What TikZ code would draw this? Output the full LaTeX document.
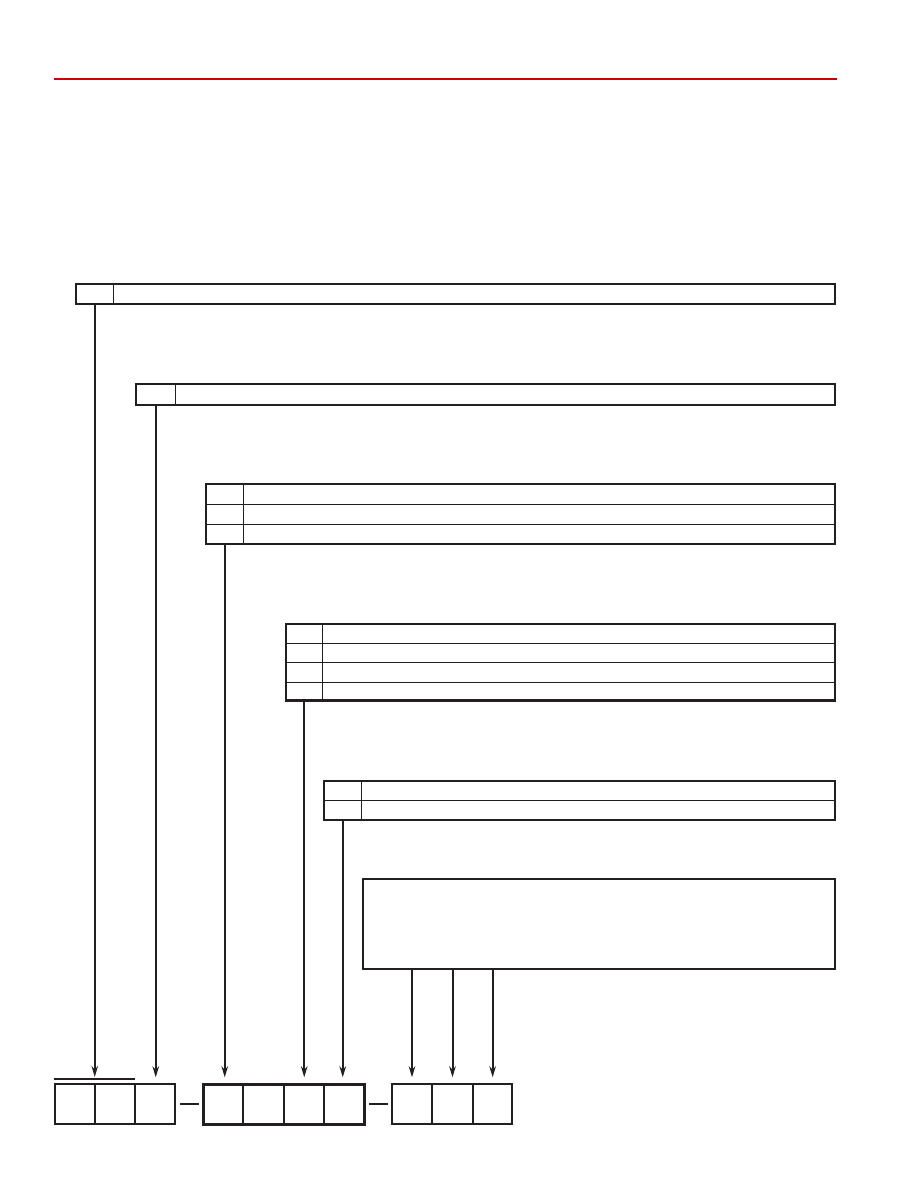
\documentclass[tikz,border=0pt]{standalone}
\usetikzlibrary{arrows.meta,fit}
\definecolor{ink}{RGB}{35,31,32}
\definecolor{rule}{RGB}{204,0,0}
\tikzset{
  tbl/.style={draw=ink,line width=2.2pt,anchor=north west,inner sep=0pt,outer sep=0pt,rectangle},
  keycol/.style={anchor=north west,inner sep=0pt,outer sep=0pt,rectangle},
  rowline/.style={draw=ink,line width=1pt},
  cell/.style={draw=ink,line width=2pt,anchor=north west,inner sep=0pt,outer sep=0pt,minimum height=39.7pt},
  conn/.style={draw=ink,line width=2pt},
  arr/.style={conn,-{Stealth[length=11pt,width=6.5pt,inset=3.5pt]}},
}
\begin{document}
\begin{tikzpicture}[x=1pt,y=-1pt]
\useasboundingbox (0,0) rectangle (918,1188);
% top rule
\coordinate (rl) at (54,78.7);
\coordinate (rr) at (837,78.7);
\draw[rule,line width=2.2pt] (rl) -- (rr);

% box 1
\node[tbl,minimum width=759pt,minimum height=19.7pt] (b1) at (76,284) {};
\node[keycol,minimum width=37.5pt,minimum height=19.7pt] (k1) at (76,284) {};
\draw[rowline] (k1.north east) -- (k1.south east);

% box 2
\node[tbl,minimum width=699pt,minimum height=21pt] (b2) at (136,384) {};
\node[keycol,minimum width=39.5pt,minimum height=21pt] (k2) at (136,384) {};
\draw[rowline] (k2.north east) -- (k2.south east);

% box 3
\node[tbl,minimum width=629pt,minimum height=60pt] (b3) at (206,484) {};
\node[keycol,minimum width=37.5pt,minimum height=60pt] (k3) at (206,484) {};
\draw[rowline] (k3.north east) -- (k3.south east);
\draw[rowline] ([yshift=-20pt]b3.north west) -- ([yshift=-20pt]b3.north east);
\draw[rowline] ([yshift=-40pt]b3.north west) -- ([yshift=-40pt]b3.north east);

% box 4
\node[tbl,minimum width=549pt,minimum height=76.5pt] (b4) at (286,624) {};
\node[keycol,minimum width=36.5pt,minimum height=76.5pt] (k4) at (286,624) {};
\draw[rowline] (k4.north east) -- (k4.south east);
\draw[rowline] ([yshift=-19.5pt]b4.north west) -- ([yshift=-19.5pt]b4.north east);
\draw[rowline] ([yshift=-38.5pt]b4.north west) -- ([yshift=-38.5pt]b4.north east);
\draw[rowline] ([yshift=-58.5pt]b4.north west) -- ([yshift=-58.5pt]b4.north east);

% box 5
\node[tbl,minimum width=511pt,minimum height=39pt] (b5) at (324,781) {};
\node[keycol,minimum width=37.5pt,minimum height=39pt] (k5) at (324,781) {};
\draw[rowline] (k5.north east) -- (k5.south east);
\draw[rowline] ([yshift=-19.5pt]b5.north west) -- ([yshift=-19.5pt]b5.north east);

% box 6
\node[tbl,minimum width=472pt,minimum height=90pt] (b6) at (363,879) {};

% bottom cells, group 1
\node[cell,minimum width=40pt] (c1) at (54.7,1084.3) {};
\node[cell,minimum width=40.6pt] (c2) at (94.7,1084.3) {};
\node[cell,minimum width=40pt] (c3) at (135.3,1084.3) {};
\coordinate (ovl) at (54,1079);
\coordinate (ovr) at (135,1079);
\draw[ink,line width=1.8pt] (ovl) -- (ovr);
\coordinate (ovm) at (95,1079);

% group 2
\node[cell,minimum width=40pt] (d1) at (203,1084.3) {};
\node[cell,minimum width=41.3pt] (d2) at (243,1084.3) {};
\node[cell,minimum width=39.7pt] (d3) at (284.3,1084.3) {};
\node[cell,minimum width=40pt] (d4) at (324,1084.3) {};
\node[fit=(d1)(d4),draw=ink,line width=3pt,inner sep=0pt,outer sep=0pt] (g2) {};

% group 3
\node[cell,minimum width=40pt] (e1) at (392,1084.3) {};
\node[cell,minimum width=41pt] (e2) at (432,1084.3) {};
\node[cell,minimum width=39.3pt] (e3) at (473,1084.3) {};

% dashes between groups
\draw[conn,shorten <=4.7pt,shorten >=4pt] (c3.east) -- (d1.west);
\draw[conn,shorten <=5.3pt,shorten >=4.3pt] (d4.east) -- (e1.west);

% connectors
\draw[arr,shorten >=2pt] (k1.south) -- (k1.south |- ovm);
\draw[arr,shorten >=7pt] (k2.south) -- (k2.south |- c3.north);
\draw[arr,shorten >=7pt] (k3.south) -- (k3.south |- d1.north);
\draw[arr,shorten >=7pt] (k4.south) -- (k4.south |- d3.north);
\draw[arr,shorten >=7pt] (k5.south) -- (k5.south |- d4.north);
\draw[arr,shorten >=7pt] (e1.north |- b6.south) -- (e1.north);
\draw[arr,shorten >=7pt] (e2.north |- b6.south) -- (e2.north);
\draw[arr,shorten >=7pt] (e3.north |- b6.south) -- (e3.north);
\end{tikzpicture}
\end{document}
